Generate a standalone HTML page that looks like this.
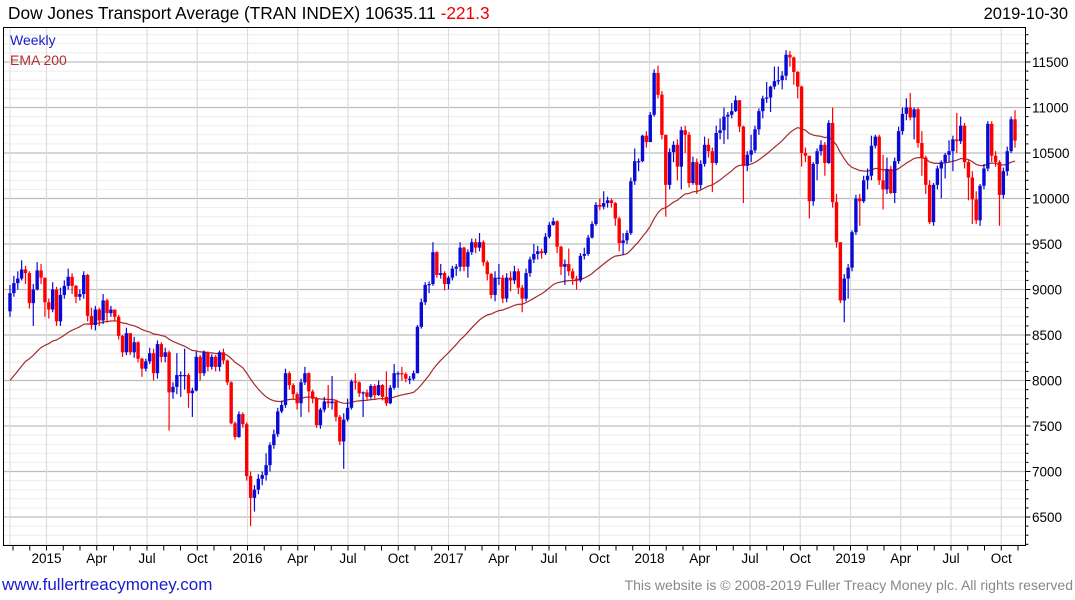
<!DOCTYPE html>
<html><head><meta charset="utf-8"><style>
body{margin:0;background:#fff;width:1075px;height:600px;overflow:hidden;font-family:"Liberation Sans",sans-serif}
svg{position:absolute;left:0;top:0}
</style></head><body>
<svg id="chart" width="1075" height="600" viewBox="0 0 1075 600">
<g id="grid"></g>
<g id="ema"></g>
<g id="candles"></g>
<g id="axes"></g>
<text x="8" y="19" font-size="17.3" fill="#000">Dow Jones Transport Average (TRAN INDEX) 10635.11 <tspan fill="#e00">-221.3</tspan></text>
<text x="1068" y="19" font-size="16.5" text-anchor="end" fill="#000">2019-10-30</text>
<text x="10" y="45" font-size="14" fill="#1a1ad0">Weekly</text>
<text x="10" y="65" font-size="14" fill="#b03030">EMA 200</text>
<text x="2" y="590" font-size="17" fill="#1a1ad0">www.fullertreacymoney.com</text>
<text x="1073" y="590" font-size="14" text-anchor="end" fill="#888">This website is © 2008-2019 Fuller Treacy Money plc. All rights reserved</text>
</svg>
<script>
const closes=[8960,9070,9120,9220,9180,8850,9000,9210,9130,8860,8780,9000,8650,8940,9040,9140,9040,8920,8950,9160,8710,8610,8780,8660,8880,8740,8780,8700,8490,8310,8520,8310,8420,8240,8130,8210,8300,8080,8400,8260,8310,7870,7930,8060,8060,8060,7860,7890,8260,8080,8310,8150,8260,8150,8310,8220,7980,7530,7380,7630,7520,6950,6710,6800,6920,
6960,7070,7290,7410,7660,7730,8080,7950,7850,7750,7980,8080,7880,7800,7510,7680,7770,7750,7770,7600,7330,7570,7700,7990,7980,7860,7870,7820,7940,7840,7950,7820,7750,7920,8080,8080,8070,8020,8020,8080,8590,8860,9050,9060,9410,9160,9180,9060,9130,9230,9250,9460,
9250,9410,9520,9460,9520,9300,9170,8940,9130,9130,8900,9130,9100,9200,9020,8900,9180,9330,9390,9420,9400,9580,9710,9750,9470,9250,9280,9200,9120,9100,9370,9390,9570,9720,9930,9910,9950,9980,9950,9780,9510,9540,9620,10190,10410,10410,10690,10620,10920,11380,
11140,10700,10150,10510,10590,10350,10750,10700,10170,10400,10150,10380,10590,10520,10390,10720,10750,10900,10920,10960,11080,10790,10360,10480,10530,10760,10960,11100,11110,11230,11290,11300,11350,11580,11550,11390,11230,10500,10470,9970,10380,10520,10590,10390,10830,9960,9520,8880,9120,
9240,9630,10000,9970,10200,10250,10580,10680,10200,10100,10325,10060,10410,10740,10930,11000,10890,10980,10610,10450,10150,9740,10150,10330,10400,10480,10520,10650,10630,10800,10400,10230,9990,9760,10140,10330,10820,10470,10400,10040,10300,10520,10870,10635];
const highs=[9050,9150,9200,9320,9260,9200,9060,9300,9280,9130,8900,9080,9030,9020,9100,9230,9180,9050,9000,9200,9170,8800,8820,8800,8950,8900,8820,8780,8720,8500,8580,8520,8480,8430,8250,8240,8360,8350,8440,8420,8360,8330,7980,8300,8100,8350,8080,7920,8320,8280,8330,8320,8290,8280,8330,8350,8230,7990,7550,7660,7650,7540,7000,6850,6970,
7000,7200,7320,7460,7700,7780,8130,8100,7970,7870,8020,8150,8090,7900,7820,7700,7820,7950,8050,7790,7620,7640,7800,8010,8080,7990,7880,7900,7960,7960,8000,7960,8100,7950,8180,8100,8150,8090,8050,8110,8610,8900,9080,9090,9520,9420,9280,9200,9150,9260,9280,9520,
9470,9440,9560,9560,9620,9540,9320,9180,9200,9280,9160,9180,9200,9260,9230,9050,9230,9360,9500,9480,9450,9620,9740,9790,9760,9480,9330,9450,9230,9150,9400,9460,9600,9750,9960,10000,10080,10020,10000,9960,9800,9620,9650,10230,10550,10440,10700,10740,10950,11420,
11460,11180,10700,10550,10630,10650,10790,10800,10730,10460,10440,10420,10680,10660,10560,10800,10880,11000,10950,11050,11130,11080,10800,10520,10700,10800,10990,11130,11280,11240,11450,11450,11400,11630,11620,11560,11400,11240,10560,10450,10400,10550,10640,10620,10860,11000,10050,9510,9170,
9280,9650,10040,10050,10250,10330,10690,10700,10700,10480,10450,10360,10450,10790,11000,11100,11160,11000,11000,10740,10470,10200,10170,10360,10420,10500,10640,10690,10940,10900,10830,10420,10300,10080,10160,10380,10850,10850,10520,10420,10340,10570,10900,10970];
const lows=[8700,8920,9000,9100,9060,8790,8600,8990,9060,8700,8680,8750,8600,8600,8900,9000,8950,8850,8880,8900,8650,8560,8550,8600,8620,8640,8700,8650,8450,8260,8280,8280,8250,8200,8040,8100,8180,8000,8020,8200,8200,7450,7800,7850,7820,7900,7700,7600,7880,8000,8050,8100,8120,8100,8100,8180,7950,7520,7350,7370,7480,6900,6400,6560,6750,
6850,6900,7000,7250,7380,7640,7700,7900,7800,7680,7600,7950,7650,7750,7480,7470,7650,7700,7680,7550,7290,7030,7550,7680,7900,7820,7600,7780,7800,7800,7830,7780,7720,7740,7900,7920,8000,7980,7960,8000,8080,8570,8830,8960,9040,9130,9120,8990,9000,9100,9150,9200,
9200,9130,9380,9400,9420,9260,9100,8900,8870,9050,8850,8860,8980,9060,8950,8750,8870,9140,9290,9330,9340,9380,9560,9700,9400,9160,9050,9150,9050,9000,9080,9330,9370,9560,9700,9870,9880,9900,9900,9700,9420,9380,9500,9600,10150,10300,10400,10560,10620,10900,
11100,10650,9800,10100,10400,10200,10100,10500,10120,10150,10050,10100,10350,10450,10070,10370,10650,10600,10650,10880,10950,10730,9950,10300,10400,10500,10700,10880,11050,10950,11200,11250,11200,11300,11450,11250,11100,10350,10400,9780,9920,10200,10470,10250,10380,9900,9460,8850,8640,
8900,9200,9600,9700,9950,10100,10200,10550,10150,9880,10050,10050,9950,10380,10700,10860,10860,10650,10560,10250,10050,9720,9700,10100,10000,10220,10400,10300,10500,10600,10330,9980,9720,9720,9700,10100,10300,10400,10350,9700,10000,10250,10500,10560];
const firstOpen=8760;
const emaSeed=8000;
const emaPeriod=40;
const yTicks=[6500,7000,7500,8000,8500,9000,9500,10000,10500,11000,11500];
const xLabels=["2015","Apr","Jul","Oct","2016","Apr","Jul","Oct","2017","Apr","Jul","Oct","2018","Apr","Jul","Oct","2019","Apr","Jul","Oct"];

const NS="http://www.w3.org/2000/svg";
const L=3.5,R=1025.5,T=27.5,B=545.5;
function y(v){return 62+(11500-v)*0.091;}
function x(i){return 10+i*(1005/(closes.length-1));}
function mk(tag,attrs,parent){const e=document.createElementNS(NS,tag);for(const k in attrs)e.setAttribute(k,attrs[k]);parent.appendChild(e);return e;}
const grid=document.getElementById('grid'),axes=document.getElementById('axes'),cg=document.getElementById('candles'),eg=document.getElementById('ema');
for(let v=6200;v<=11800;v+=100){
  const major=v%500===0;
  const ln=mk('line',{x1:L,x2:R,y1:y(v),y2:y(v),stroke:major?'#bdbdbd':'#ececec','stroke-width':major?1.2:1},grid);
  
  
  const tk=mk('line',{x1:R,x2:R+(major?5:3),y1:y(v),y2:y(v),stroke:'#000'},axes);
  
  
}
yTicks.forEach(v=>{
  const t=mk('text',{x:1032,y:y(v)+5,'font-size':13.5,fill:'#000'},axes);
  t.textContent=v;
  
  
});
const vl=mk('line',{x1:10,x2:10,y1:T,y2:B,stroke:'#dcdcdc'},grid);


xLabels.forEach((s,k)=>{
  const px=46.5+k*50.25;
  const g=mk('line',{x1:px,x2:px,y1:T,y2:B,stroke:'#dcdcdc','stroke-width':1.2},grid);
  
  
  const t=mk('text',{x:px,y:563,'font-size':13.5,'text-anchor':'middle',fill:'#000'},axes);
  t.textContent=s;
  
  
});
for(let m=-2;m<60;m++){
  const px=46.5+m*50.25/3;
  if(px<L||px>R)continue;
  const tk=mk('line',{x1:px,x2:px,y1:B,y2:B+5,stroke:'#000'},axes);
  
  
}
const fr=mk('rect',{x:L,y:T,width:R-L,height:B-T,fill:'none',stroke:'#000'},axes);


let e=emaSeed,pts=[];const a=2/(emaPeriod+1);
closes.forEach((c,i)=>{ if(i>0) e=e+a*(c-e); pts.push(x(i).toFixed(1)+','+y(e).toFixed(1)); });
const pl=mk('polyline',{points:pts.join(' '),fill:'none',stroke:'#a52a2a','stroke-width':1.2},eg);


closes.forEach((c,i)=>{
  const o=i===0?firstOpen:closes[i-1];
  const col=c>=o?'#0a0ad6':'#ff0000';
  const cx=x(i);
  const w=mk('line',{x1:cx,x2:cx,y1:y(highs[i]),y2:y(lows[i]),stroke:col,'stroke-width':1.2},cg);
  
  
  const top=y(Math.max(o,c)),h=Math.max(1.2,y(Math.min(o,c))-top);
  const b=mk('rect',{x:cx-1.7,y:top,width:3.4,height:h,fill:col},cg);
  
  
});
</script>
</body></html>
